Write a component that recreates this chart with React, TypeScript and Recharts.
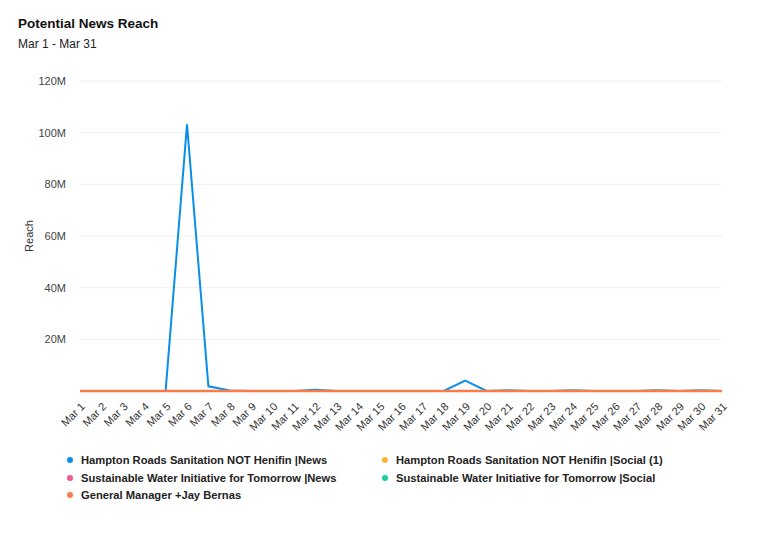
import React from 'react';
import { LineChart, Line, XAxis, YAxis, CartesianGrid, Label } from 'recharts';

const days: string[] = [
  'Mar 1','Mar 2','Mar 3','Mar 4','Mar 5','Mar 6','Mar 7','Mar 8','Mar 9','Mar 10',
  'Mar 11','Mar 12','Mar 13','Mar 14','Mar 15','Mar 16','Mar 17','Mar 18','Mar 19','Mar 20',
  'Mar 21','Mar 22','Mar 23','Mar 24','Mar 25','Mar 26','Mar 27','Mar 28','Mar 29','Mar 30','Mar 31',
];

const hrsnNews: number[] = [
  0, 0, 0, 0, 0, 103200000, 1800000, 200000, 0, 0,
  0, 500000, 0, 0, 0, 0, 0, 0, 4000000, 0,
  300000, 0, 0, 300000, 0, 0, 0, 300000, 0, 300000, 0,
];
const hrsnSocial: number[] = [
  0,0,0,0,0,0,0,0,0,0,0,0,0,0,0,0,0,0,0,0,0,0,0,0,0,0,0,0,0,0,0,
];
const swiftNews: number[] = [
  0,0,0,0,0,0,0,0,0,0,0,0,0,0,0,0,0,0,0,0,0,0,0,0,0,0,0,0,0,0,0,
];
const swiftSocial: number[] = [
  0,0,0,0,0,0,0,0,0,0,0,0,0,0,0,0,0,0,0,0,0,0,0,0,0,0,0,0,0,0,0,
];
const gmJay: number[] = [
  0,0,0,0,0,0,0,0,0,0,0,0,0,0,0,0,0,0,0,0,0,0,0,0,0,0,0,0,0,0,0,
];

const yTicks: number[] = [20000000, 40000000, 60000000, 80000000, 100000000, 120000000];

const seriesNames: string[] = [
  'Hampton Roads Sanitation NOT Henifin |News',
  'Hampton Roads Sanitation NOT Henifin |Social (1)',
  'Sustainable Water Initiative for Tomorrow |News',
  'Sustainable Water Initiative for Tomorrow |Social',
  'General Manager +Jay Bernas',
];
const seriesColors: string[] = ['#0a8fe8', '#fbb43a', '#f0588a', '#1dcca0', '#fb7b47'];

const data = days.map((d, i) => ({
  day: d,
  s0: hrsnNews[i],
  s1: hrsnSocial[i],
  s2: swiftNews[i],
  s3: swiftSocial[i],
  s4: gmJay[i],
}));

const FONT = 'Arial, "Liberation Sans", Helvetica, sans-serif';

const XTick = (props: any) => {
  const { x, y, payload } = props;
  return (
    <g transform={`translate(${x},${y})`}>
      <text
        x={0}
        y={0}
        dx={1}
        dy={7}
        textAnchor="end"
        transform="rotate(-45)"
        fontSize={11}
        fill="#333"
        fontFamily={FONT}
      >
        {payload.value}
      </text>
    </g>
  );
};

const fmtY = (v: number) => `${Math.round(v / 1000000)}M`;

const legendOrder = [0, 1, 2, 3, 4];

export default function App() {
  return (
    <div style={{ position: 'relative', width: 772, height: 534, margin: -8, background: '#fff', overflow: 'hidden', fontFamily: FONT }}>
      <div style={{ position: 'absolute', left: 7, top: 3, width: 760, height: 560, border: '1px solid #e6e6e6', borderRadius: 5 }} />
      <div style={{ position: 'absolute', left: 18, top: 16, fontSize: 13.5, fontWeight: 'bold', color: '#111' }}>Potential News Reach</div>
      <div style={{ position: 'absolute', left: 18, top: 37, fontSize: 12, color: '#222' }}>Mar 1 - Mar 31</div>
      <div style={{ position: 'absolute', left: 0, top: 0 }}>
        <LineChart width={772} height={534} data={data} margin={{ top: 81, right: 50, left: 20, bottom: 93 }}>
          <CartesianGrid vertical={false} stroke="#f0f0f0" />
          <XAxis
            dataKey="day"
            interval={0}
            axisLine={false}
            tickLine={false}
            height={50}
            tick={<XTick />}
            tickMargin={6}
          />
          <YAxis
            width={60}
            domain={[0, 120000000]}
            ticks={yTicks}
            tickFormatter={fmtY}
            axisLine={false}
            tickLine={false}
            tickMargin={8}
            tick={{ fontSize: 11, fill: '#444', fontFamily: FONT }}
          >
            <Label
              content={(p: any) => {
                const vb = p.viewBox;
                const cx = 33;
                const cy = vb.y + vb.height / 2;
                return (
                  <text x={cx} y={cy} transform={`rotate(-90 ${cx} ${cy})`} textAnchor="middle" fontSize={11} fill="#333" fontFamily={FONT}>
                    Reach
                  </text>
                );
              }}
            />
          </YAxis>
          <Line dataKey="s1" stroke={seriesColors[1]} strokeWidth={2} dot={false} isAnimationActive={false} />
          <Line dataKey="s2" stroke={seriesColors[2]} strokeWidth={2} dot={false} isAnimationActive={false} />
          <Line dataKey="s3" stroke={seriesColors[3]} strokeWidth={2} dot={false} isAnimationActive={false} />
          <Line dataKey="s0" stroke={seriesColors[0]} strokeWidth={2} dot={false} isAnimationActive={false} />
          <Line dataKey="s4" stroke={seriesColors[4]} strokeWidth={2.5} dot={false} isAnimationActive={false} />
        </LineChart>
      </div>
      {legendOrder.map((i) => {
        const col = i % 2;
        const row = Math.floor(i / 2);
        const left = col === 0 ? 67 : 382;
        const top = 454 + row * 17.5;
        return (
          <div key={i} style={{ position: 'absolute', left, top, display: 'flex', alignItems: 'center', fontSize: 11.2, fontWeight: 'bold', color: '#222', whiteSpace: 'nowrap' }}>
            <span style={{ display: 'inline-block', width: 6, height: 6, borderRadius: 3, background: seriesColors[i], marginRight: 8 }} />
            <span>{seriesNames[i]}</span>
          </div>
        );
      })}
    </div>
  );
}
